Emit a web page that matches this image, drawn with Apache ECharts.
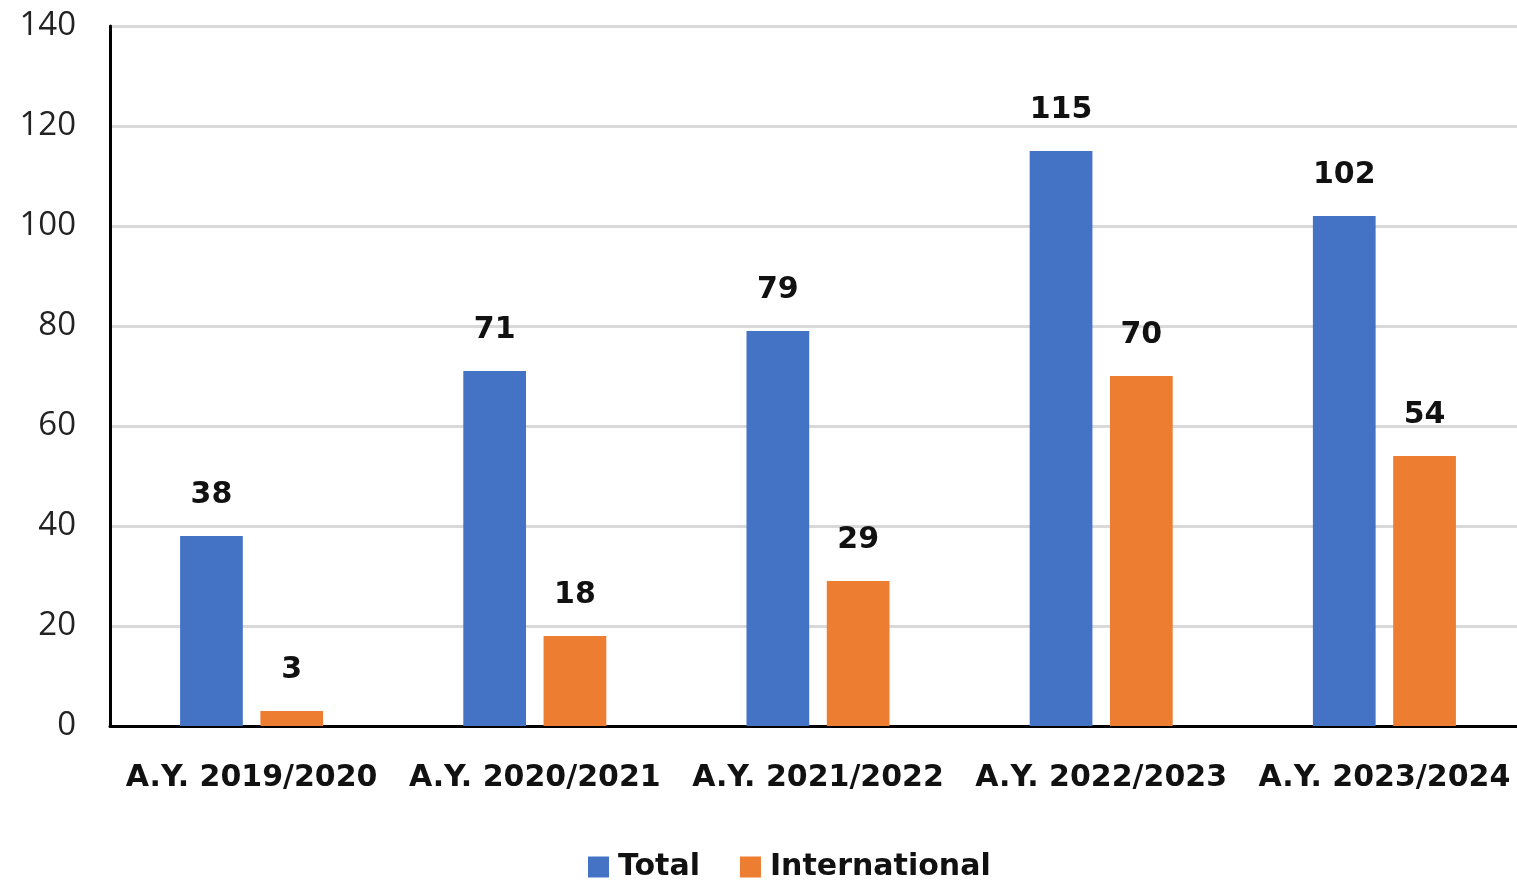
<!DOCTYPE html>
<html>
<head>
<meta charset="utf-8">
<script src="https://cdn.jsdelivr.net/npm/echarts@6/dist/echarts.min.js"></script>
<style>
  html, body { margin: 0; padding: 0; background: #fff; }
  #chart_years { width: 1517px; height: 883px; }
</style>
</head>
<body>
<div id="chart_years"></div>
<script>
  const categories = ['A.Y. 2019/2020', 'A.Y. 2020/2021', 'A.Y. 2021/2022', 'A.Y. 2022/2023', 'A.Y. 2023/2024']
  const totalValues = [38, 71, 79, 115, 102]
  const internationalValues = [3, 18, 29, 70, 54]
  const seriesNames = ['Total', 'International']

  let chart = echarts.init(document.getElementById('chart_years'))
  let boldText = { fontFamily: 'DejaVu Sans', fontWeight: 'bold', fontSize: 30, color: '#111' }

  let options = {
    animation: false,
    color: ['#4472C4', '#ED7D31'],
    legend: {
      data: seriesNames,
      top: 847,
      left: 583,
      itemWidth: 21,
      itemHeight: 21,
      itemGap: 40,
      icon: 'rect',
      textStyle: Object.assign({}, boldText, { padding: [0, 0, 0, 4] })
    },
    grid: {
      left: 110,
      right: -9,
      top: 26,
      bottom: 157,
      outerBoundsMode: 'none',
      containLabel: false
    },
    xAxis: {
      type: 'category',
      data: categories,
      axisLine: { lineStyle: { color: '#000', width: 3 } },
      axisTick: { show: false },
      axisLabel: Object.assign({ margin: 37, interval: 0 }, boldText)
    },
    yAxis: {
      type: 'value',
      min: 0,
      max: 140,
      interval: 20,
      axisLine: { show: true, lineStyle: { color: '#000', width: 3 } },
      axisLabel: { fontFamily: 'Open Sans', fontSize: 33, color: '#222', margin: 34 },
      splitLine: { lineStyle: { color: '#d9d9d9', width: 3 } }
    },
    series: [
      {
        name: seriesNames[0],
        type: 'bar',
        data: totalValues,
        barGap: '28%',
        barCategoryGap: '49.5%',
        label: Object.assign({ show: true, position: 'top', distance: 26 }, boldText)
      },
      {
        name: seriesNames[1],
        type: 'bar',
        data: internationalValues,
        label: Object.assign({ show: true, position: 'top', distance: 26 }, boldText)
      }
    ]
  }
  chart.setOption(options)
</script>
</body>
</html>
